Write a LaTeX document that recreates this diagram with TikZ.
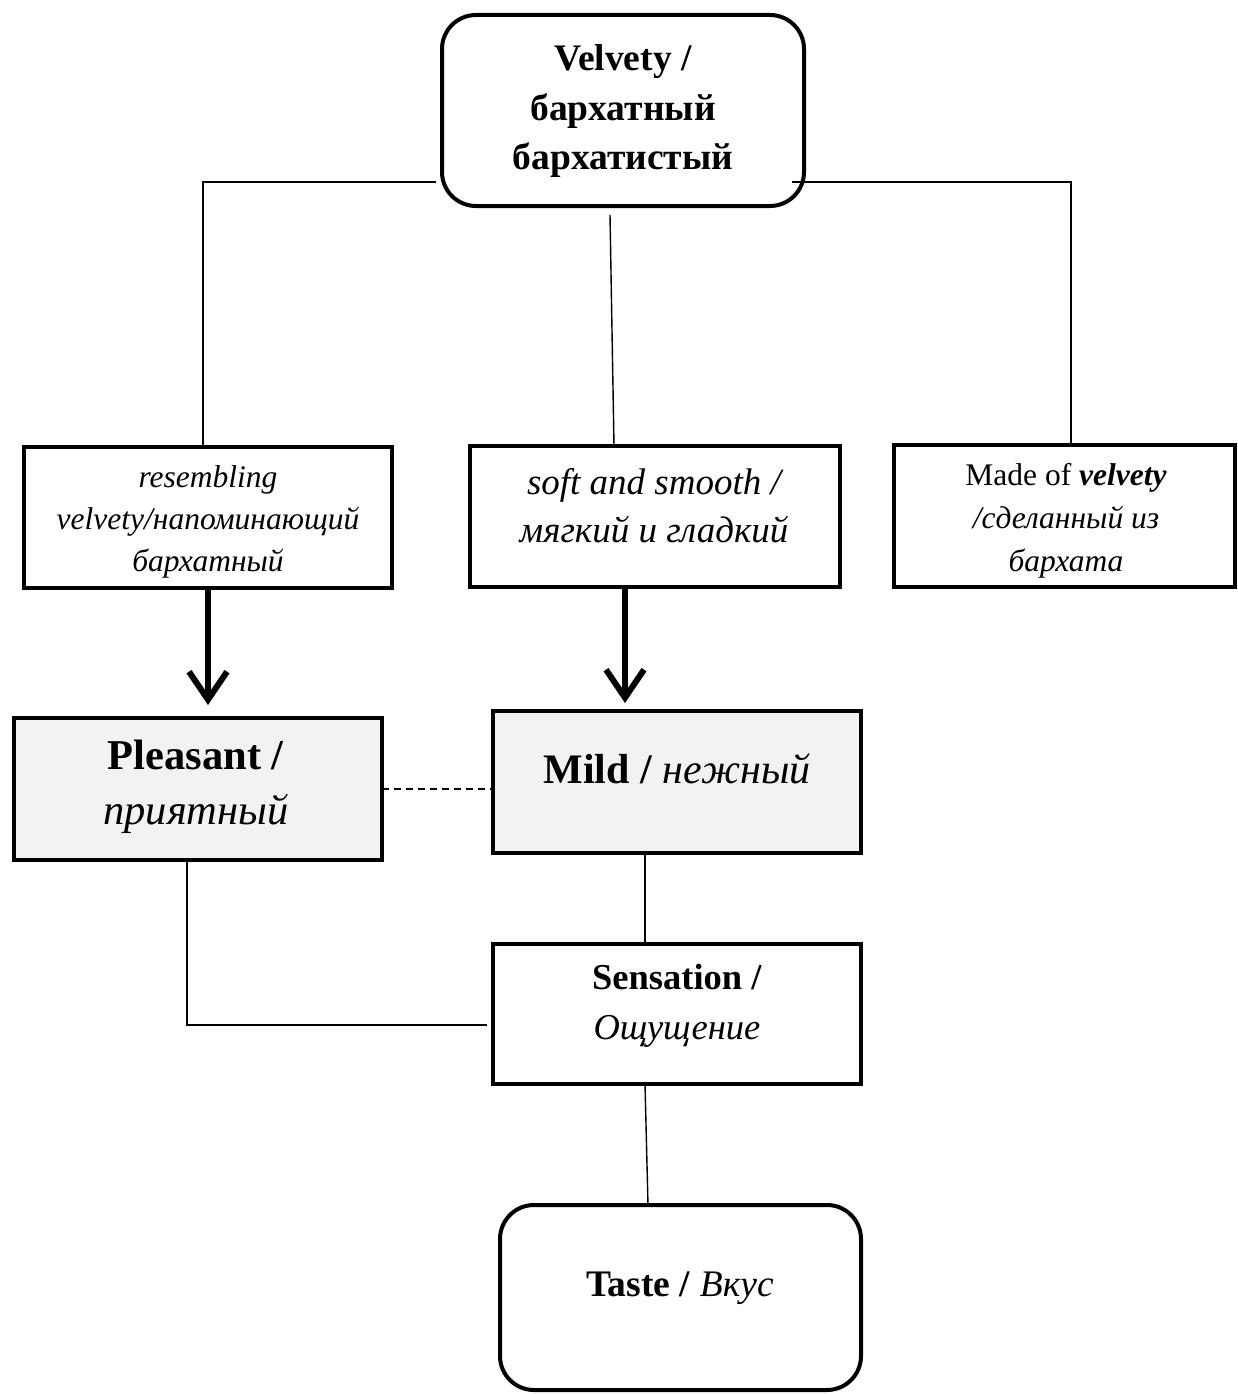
\documentclass[tikz,border=0pt]{standalone}
\usepackage{fontspec}
\setmainfont{Liberation Serif}
\usetikzlibrary{arrows.meta}
\definecolor{boxgray}{HTML}{F2F2F2}
\begin{document}
\begin{tikzpicture}[x=1pt,y=-1pt,
  thickbox/.style={draw=black,line width=4pt,inner sep=0pt,outer sep=0pt},
  roundbox/.style={thickbox,rounded corners=34pt},
  graybox/.style={thickbox,fill=boxgray},
  conn/.style={draw=black,line width=1.4pt},
  dashconn/.style={conn,dash pattern=on 7pt off 5pt},
  bigarrow/.style={draw=black,line width=6pt,-{Straight Barb[length=28pt,width=38pt]}},
  lbl/.style={align=center,inner sep=0pt}]
\useasboundingbox (0,0) rectangle (1237,1394);
% boxes
\node[roundbox,minimum width=362pt,minimum height=191pt] (top) at (623,110.5) {};
\node[thickbox,minimum width=368pt,minimum height=141pt] (res) at (208,517.5) {};
\node[thickbox,minimum width=370pt,minimum height=141pt] (soft) at (655,516.5) {};
\node[thickbox,minimum width=341pt,minimum height=142pt] (made) at (1064.5,516) {};
\node[graybox,minimum width=368pt,minimum height=142pt] (pleas) at (198,789) {};
\node[graybox,minimum width=368pt,minimum height=142pt] (mild) at (677,782) {};
\node[thickbox,minimum width=368pt,minimum height=140pt] (sens) at (677,1014) {};
\node[roundbox,minimum width=361pt,minimum height=185pt] (taste) at (680.5,1297.5) {};
% texts
\node[lbl,font=\fontsize{37.5}{49.5}\selectfont\bfseries] (toptxt) at (623,111) {Velvety /\\бархатный\\бархатистый};
\node[lbl,font=\fontsize{31.5}{42}\selectfont\itshape] (restxt) at (208,522) {resembling\\velvety/напоминающий\\бархатный};
\node[lbl,font=\fontsize{37}{48}\selectfont\itshape] (softtxt) at (654,506) {soft and smooth /\\мягкий и гладкий};
\node[lbl,font=\fontsize{31.5}{43}\selectfont] (madetxt) at (1066,521) {Made of \textbf{\textit{velvety}}\\\textit{/сделанный из}\\\textit{бархата}};
\node[lbl,font=\fontsize{42.5}{55}\selectfont] (pleastxt) at (196,787) {\textbf{Pleasant /}\\\textit{приятный}};
\node[lbl,font=\fontsize{42}{55}\selectfont] (mildtxt) at (677,769) {\textbf{Mild /} \textit{нежный}};
\node[lbl,font=\fontsize{36.5}{50}\selectfont] (senstxt) at (677,1006) {\textbf{Sensation /}\\\textit{Ощущение}};
\node[lbl,font=\fontsize{37.5}{48}\selectfont] (tastetxt) at (680,1288) {\textbf{Taste /} \textit{Вкус}};
% connectors
\draw[conn] ([xshift=-6pt,yshift=-71.5pt]top.west) -| ([xshift=-5pt]res.north);
\draw[conn] ([xshift=-12pt,yshift=-71.5pt]top.east) -| ([xshift=6.5pt]made.north);
\draw[conn] ([xshift=-13pt,yshift=-9pt]top.south) -- ([xshift=-41pt]soft.north);
\draw[bigarrow] (res.south) -- ([yshift=13pt]pleas.north -| res.south);
\draw[bigarrow] ([xshift=-30pt]soft.south) -- ([xshift=-52pt,yshift=8pt]mild.north);
\draw[dashconn] (pleas.east) -- (pleas.east -| mild.west);
\draw[conn] ([xshift=-32pt]mild.south) -- ([xshift=-32pt]sens.north);
\draw[conn] ([xshift=-11pt]pleas.south) |- ([xshift=-6pt,yshift=-11pt]sens.west);
\draw[conn] ([xshift=-32pt]sens.south) -- ([xshift=-32.5pt]taste.north);
\end{tikzpicture}
\end{document}
